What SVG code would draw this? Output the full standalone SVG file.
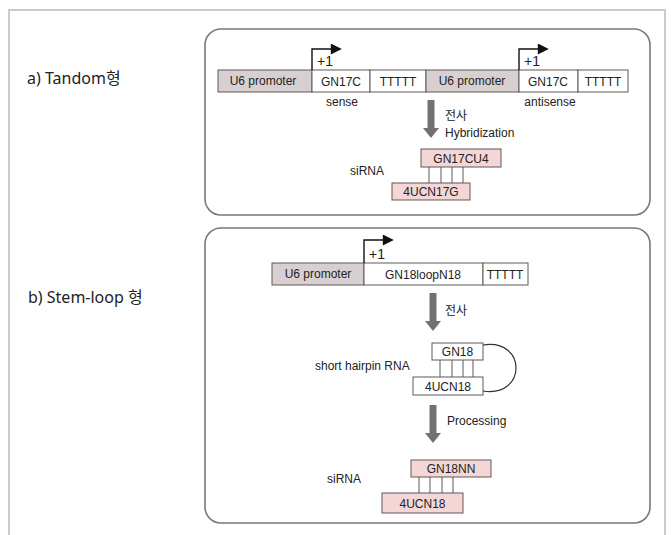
<svg xmlns="http://www.w3.org/2000/svg" width="671" height="535" viewBox="0 0 671 535">
  <defs>
    <style>
      .frame { fill: none; stroke: #cbcbcb; stroke-width: 2; }
      .panel { fill: none; stroke: #7d7777; stroke-width: 1.6; }
      .box { stroke: #5e5858; stroke-width: 1; }
      .prom { fill: #d8d0d0; }
      .seg { fill: #ffffff; }
      .rna { fill: #f4d6d6; }
      .pair { stroke: #5e5858; stroke-width: 1; }
      .tss { fill: none; stroke: #111; stroke-width: 1.4; }
      .t { font-family: "Liberation Sans", Arial, sans-serif; font-size: 12px; fill: #222; }
      .c { text-anchor: middle; }
      .lbl { font-family: "Noto Sans", "Noto Sans CJK KR", sans-serif; font-size: 16px; fill: #222; }
      .ko { font-family: "Noto Sans CJK KR", sans-serif; font-size: 12px; fill: #222; }
      .plus { font-family: "Liberation Sans", Arial, sans-serif; font-size: 14px; fill: #222; }
    </style>
    <marker id="tip" viewBox="0 0 10 10" refX="2" refY="5" markerWidth="13" markerHeight="11" markerUnits="userSpaceOnUse" orient="auto">
      <path d="M0,0 L10,5 L0,10 Z" fill="#111"/>
    </marker>
    <!-- thick grey process arrow, tip at origin -->
    <path id="bigArrow" d="M-3.5,-38 H3.5 V-10 H8 L0,0 L-8,-10 H-3.5 Z" fill="#727070"/>
  </defs>

  <!-- outer frame -->
  <path class="frame" d="M9,535 V10 H665 V535"/>

  <!-- panel labels -->
  <text class="lbl" x="27" y="84">a) Tandom형</text>
  <text class="lbl" x="28" y="303">b) Stem-loop 형</text>

  <!-- panel a -->
  <rect class="panel" x="205" y="29" width="445" height="186" rx="16"/>

  <g id="tandem-construct">
    <rect class="box prom" x="218" y="70" width="94" height="22"/>
    <rect class="box seg" x="312" y="70" width="58" height="22"/>
    <rect class="box seg" x="370" y="70" width="56" height="22"/>
    <rect class="box prom" x="426" y="70" width="93" height="22"/>
    <rect class="box seg" x="519" y="70" width="59" height="22"/>
    <rect class="box seg" x="578" y="70" width="50" height="22"/>
    <text class="t c" x="263" y="85">U6 promoter</text>
    <text class="t c" x="341" y="85.5">GN17C</text>
    <text class="t c" x="398" y="85.5">TTTTT</text>
    <text class="t c" x="472" y="85">U6 promoter</text>
    <text class="t c" x="548" y="85.5">GN17C</text>
    <text class="t c" x="603" y="85.5">TTTTT</text>
    <text class="t c" x="342" y="106">sense</text>
    <text class="t c" x="550" y="106">antisense</text>
  </g>

  <g id="tandem-siRNA">
    <rect class="box rna" x="421" y="149" width="80" height="18"/>
    <rect class="box rna" x="392" y="183" width="78" height="17"/>
    <text class="t c" x="461" y="162.5">GN17CU4</text>
    <text class="t c" x="431" y="196">4UCN17G</text>
    <text class="t c" x="367" y="175">siRNA</text>
  </g>

  <!-- panel b -->
  <rect class="panel" x="205" y="228" width="445" height="295" rx="16"/>

  <g id="stemloop-construct">
    <rect class="box prom" x="272" y="263" width="92" height="22"/>
    <rect class="box seg" x="364" y="263" width="119" height="22"/>
    <rect class="box seg" x="483" y="263" width="45" height="22"/>
    <text class="t c" x="318" y="278">U6 promoter</text>
    <text class="t c" x="423" y="278.5">GN18loopN18</text>
    <text class="t c" x="505" y="278.5">TTTTT</text>
  </g>

  <g id="hairpin">
    <rect class="box seg" x="432" y="343" width="51" height="17"/>
    <rect class="box seg" x="413" y="377" width="70" height="18"/>
    <path d="M483,345 C527,338 527,398 483,391" fill="none" stroke="#333" stroke-width="1.2"/>
    <text class="t c" x="457.5" y="356">GN18</text>
    <text class="t c" x="448" y="390.5">4UCN18</text>
    <text class="t" x="315" y="370">short hairpin RNA</text>
  </g>

  <g id="stemloop-siRNA">
    <rect class="box rna" x="411" y="460" width="80" height="17"/>
    <rect class="box rna" x="382" y="493" width="81" height="20"/>
    <text class="t c" x="451" y="473">GN18NN</text>
    <text class="t c" x="422.5" y="507.5">4UCN18</text>
    <text class="t" x="327" y="483">siRNA</text>
  </g>

  <!-- connectors: transcription start sites, base pairs, process arrows -->
  <g id="connectors">
    <path class="tss" d="M312,70 V49 H333" marker-end="url(#tip)"/>
    <path class="tss" d="M519,70 V49 H540" marker-end="url(#tip)"/>
    <path class="tss" d="M364,263 V240 H385" marker-end="url(#tip)"/>
    <text class="plus" x="317" y="66">+1</text>
    <text class="plus" x="524" y="66">+1</text>
    <text class="plus" x="369" y="259">+1</text>

    <path class="pair" d="M429,167 V183 M441,167 V183 M452,167 V183 M463,167 V183"/>
    <path class="pair" d="M440,360 V377 M452,360 V377 M463,360 V377 M473,360 V377"/>
    <path class="pair" d="M419,477 V493 M430,477 V493 M442,477 V493 M453,477 V493"/>

    <use href="#bigArrow" x="431" y="138"/>
    <text class="ko" x="445" y="120">전사</text>
    <text class="t" x="445" y="137">Hybridization</text>

    <use href="#bigArrow" x="433" y="331"/>
    <text class="ko" x="445" y="315">전사</text>

    <use href="#bigArrow" x="433" y="443"/>
    <text class="t" x="447" y="425">Processing</text>
  </g>
</svg>
